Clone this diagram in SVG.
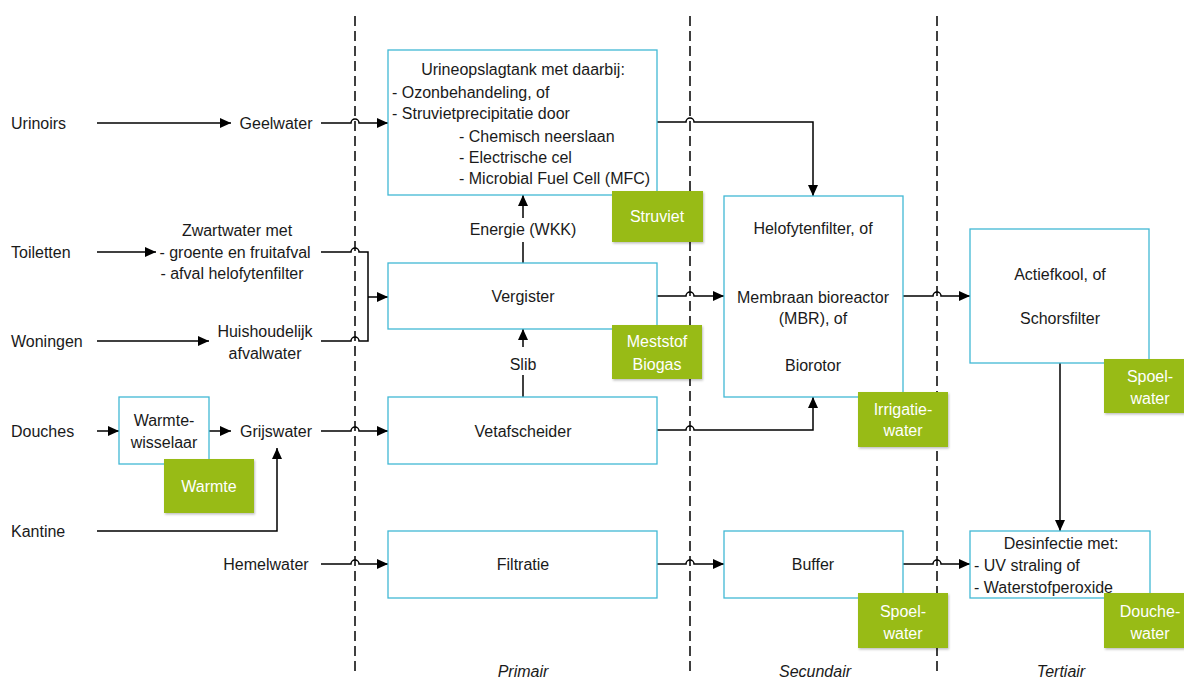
<svg xmlns="http://www.w3.org/2000/svg" width="1184" height="678" viewBox="0 0 1184 678">
<style>
text{font-family:"Liberation Sans",Arial,sans-serif;font-size:16px;fill:#1a1a1a}
.c{text-anchor:middle}
.w{fill:#ffffff;text-anchor:middle}
.it{font-style:italic;text-anchor:middle}
.box{fill:#ffffff;stroke:#41B8D5;stroke-width:1.3}
.g{fill:#98BB12;filter:url(#sh)}
.ln{fill:none;stroke:#000;stroke-width:1.5}
.ar{marker-end:url(#ah)}
.dash{stroke:#000;stroke-width:1.5;stroke-dasharray:10 5;fill:none}
</style>
<defs>
<marker id="ah" markerUnits="userSpaceOnUse" markerWidth="11" markerHeight="10" refX="11" refY="5" orient="auto"><path d="M0,0 L11,5 L0,10 z" fill="#000"/></marker>
<filter id="sh" x="-10%" y="-10%" width="130%" height="130%"><feDropShadow dx="1" dy="1.5" stdDeviation="1.2" flood-color="#000" flood-opacity="0.25"/></filter>
</defs>
<rect width="1184" height="678" fill="#ffffff"/>
<g id="phases">
<path class="dash" d="M355,16 V672 M690,16 V672 M937,16 V672"/>
<text class="it" x="523" y="677">Primair</text>
<text class="it" x="815" y="677">Secundair</text>
<text class="it" x="1061" y="677">Tertiair</text>
</g>
<g id="sources">
<text x="11" y="129">Urinoirs</text>
<text x="11" y="258">Toiletten</text>
<text x="11" y="347">Woningen</text>
<text x="11" y="437">Douches</text>
<text x="11" y="537">Kantine</text>
</g>
<g id="streams">
<text class="c" x="276" y="129">Geelwater</text>
<text class="c" x="237" y="236">Zwartwater met</text>
<text class="c" x="235" y="258">- groente en fruitafval</text>
<text class="c" x="232" y="279">- afval helofytenfilter</text>
<text class="c" x="265" y="337">Huishoudelijk</text>
<text class="c" x="265" y="359">afvalwater</text>
<text class="c" x="276" y="437">Grijswater</text>
<text class="c" x="266" y="570">Hemelwater</text>
<text class="c" x="523" y="235">Energie (WKK)</text>
<text class="c" x="523" y="370">Slib</text>
</g>
<g id="connectors">
<path class="ln ar" d="M97,123 H231"/>
<path class="ln ar" d="M321,123 H351 A4,4 0 0 1 359,123 H388"/>
<path class="ln ar" d="M97,252 H156"/>
<path class="ln" d="M321,252 H351 A4,4 0 0 1 359,252 H368 V341 H359 A4,4 0 0 0 351,341 H321"/>
<path class="ln ar" d="M368,297 H388"/>
<path class="ln ar" d="M97,341 H209"/>
<path class="ln ar" d="M97,431 H119"/>
<path class="ln ar" d="M209,431 H231"/>
<path class="ln ar" d="M321,431 H351 A4,4 0 0 1 359,431 H388"/>
<path class="ln ar" d="M97,531 H277 V448"/>
<path class="ln ar" d="M321,564 H351 A4,4 0 0 1 359,564 H388"/>
<path class="ln" d="M523,263 V242"/>
<path class="ln ar" d="M523,218 V195"/>
<path class="ln" d="M523,397 V375"/>
<path class="ln ar" d="M523,347 V329"/>
<path class="ln ar" d="M657,122 H686 A4,4 0 0 1 694,122 H813 V196"/>
<path class="ln ar" d="M657,296 H686 A4,4 0 0 1 694,296 H724"/>
<path class="ln ar" d="M657,430 H686 A4,4 0 0 1 694,430 H813 V397"/>
<path class="ln ar" d="M657,564 H686 A4,4 0 0 1 694,564 H724"/>
<path class="ln ar" d="M903,296 H933 A4,4 0 0 1 941,296 H970"/>
<path class="ln ar" d="M903,564 H933 A4,4 0 0 1 941,564 H970"/>
<path class="ln ar" d="M1060,363 V531"/>
</g>
<g id="warmtewisselaar">
<rect class="box" x="119" y="397" width="90" height="67"/>
<text class="c" x="164" y="426">Warmte-</text>
<text class="c" x="164" y="448">wisselaar</text>
</g>
<g id="urineopslagtank">
<rect class="box" x="388" y="50" width="269" height="145"/>
<text class="c" x="523" y="75">Urineopslagtank met daarbij:</text>
<text x="392" y="98">- Ozonbehandeling, of</text>
<text x="392" y="119">- Struvietprecipitatie door</text>
<text x="459" y="142">- Chemisch neerslaan</text>
<text x="459" y="163">- Electrische cel</text>
<text x="459" y="184">- Microbial Fuel Cell (MFC)</text>
</g>
<g id="vergister">
<rect class="box" x="388" y="263" width="269" height="66"/>
<text class="c" x="523" y="302">Vergister</text>
</g>
<g id="vetafscheider">
<rect class="box" x="388" y="397" width="269" height="67"/>
<text class="c" x="523" y="437">Vetafscheider</text>
</g>
<g id="filtratie">
<rect class="box" x="388" y="531" width="269" height="67"/>
<text class="c" x="523" y="570">Filtratie</text>
</g>
<g id="helofytenfilter">
<rect class="box" x="724" y="196" width="179" height="201"/>
<text class="c" x="813" y="234">Helofytenfilter, of</text>
<text class="c" x="813" y="303">Membraan bioreactor</text>
<text class="c" x="813" y="324">(MBR), of</text>
<text class="c" x="813" y="371">Biorotor</text>
</g>
<g id="buffer">
<rect class="box" x="724" y="531" width="179" height="67"/>
<text class="c" x="813" y="570">Buffer</text>
</g>
<g id="actiefkool">
<rect class="box" x="970" y="229" width="179" height="134"/>
<text class="c" x="1060" y="280">Actiefkool, of</text>
<text class="c" x="1060" y="324">Schorsfilter</text>
</g>
<g id="desinfectie">
<rect class="box" x="970" y="531" width="180" height="67"/>
<text class="c" x="1061" y="549">Desinfectie met:</text>
<text x="974" y="571">- UV straling of</text>
<text x="974" y="593">- Waterstofperoxide</text>
</g>
<g id="out-struviet">
<rect class="g" x="612" y="191" width="91" height="51"/>
<text class="w" x="657" y="222">Struviet</text>
</g>
<g id="out-meststof">
<rect class="g" x="612" y="325" width="90" height="54"/>
<text class="w" x="657" y="347">Meststof</text>
<text class="w" x="657" y="370">Biogas</text>
</g>
<g id="out-warmte">
<rect class="g" x="164" y="459" width="90" height="54"/>
<text class="w" x="209" y="492">Warmte</text>
</g>
<g id="out-irrigatiewater">
<rect class="g" x="858" y="392" width="90" height="55"/>
<text class="w" x="903" y="415">Irrigatie-</text>
<text class="w" x="903" y="436">water</text>
</g>
<g id="out-spoelwater-1">
<rect class="g" x="1104" y="359" width="92" height="54"/>
<text class="w" x="1150" y="382">Spoel-</text>
<text class="w" x="1150" y="404">water</text>
</g>
<g id="out-spoelwater-2">
<rect class="g" x="858" y="593" width="90" height="55"/>
<text class="w" x="903" y="617">Spoel-</text>
<text class="w" x="903" y="639">water</text>
</g>
<g id="out-douchewater">
<rect class="g" x="1104" y="593" width="92" height="55"/>
<text class="w" x="1150" y="617">Douche-</text>
<text class="w" x="1150" y="639">water</text>
</g>
</svg>
